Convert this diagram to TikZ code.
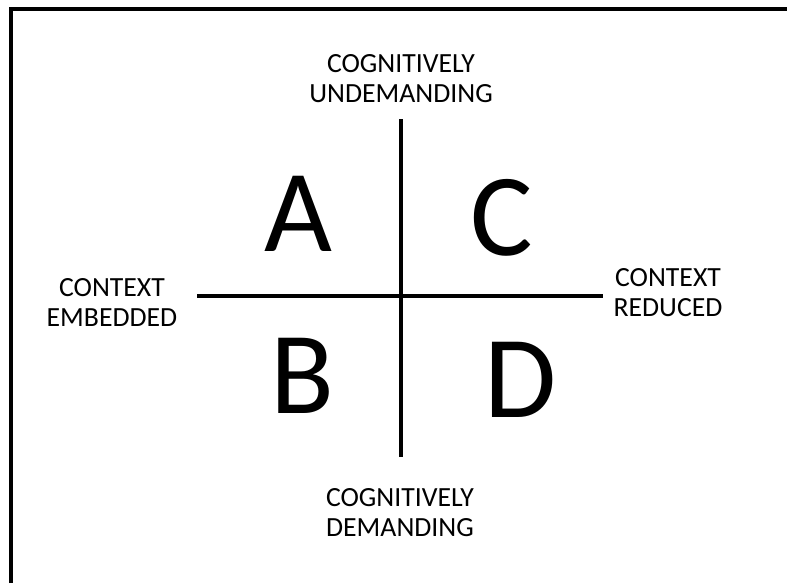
\documentclass[tikz,border=0pt]{standalone}
\usepackage{fontspec}
\setmainfont{Carlito}
\usepackage{tikz}
\usetikzlibrary{calc, positioning}

\tikzset{
  axislabel/.style={align=center, inner sep=0pt, font=\fontsize{20.8}{22.5}\selectfont},
  quadrant/.style={inner sep=0pt, font=\fontsize{88}{90}\selectfont},
  axis/.style={line width=2.4pt}
}

\begin{document}
\begin{tikzpicture}[x=0.75pt, y=-0.75pt]
  \useasboundingbox (0,0) rectangle (787,583);
  % frame
  \draw [line width=3pt] (11,583) -- (11,8.5) -- (787,8.5);
  % axes
  \coordinate (top) at (401,119);
  \coordinate (bottom) at (401,457);
  \coordinate (left) at (197,296);
  \coordinate (right) at (603,296);
  \draw [axis] (top) -- (bottom);
  \draw [axis] (left) -- (right);
  % quadrants
  \node (qa) at (298,214) [quadrant] {A};
  \node (qc) at (502,218) [quadrant] {C};
  \node (qb) at (302,376) [quadrant] {B};
  \node (qd) at (521,380) [quadrant] {D};
  % axis labels
  \node (undem) at (401,78.5) [axislabel] {COGNITIVELY\\UNDEMANDING};
  \node (dem) at (400,512.5) [axislabel] {COGNITIVELY\\DEMANDING};
  \node (embed) at (112,302.5) [axislabel] {CONTEXT\\EMBEDDED};
  \node (reduc) at (668,292.5) [axislabel] {CONTEXT\\REDUCED};
\end{tikzpicture}
\end{document}
